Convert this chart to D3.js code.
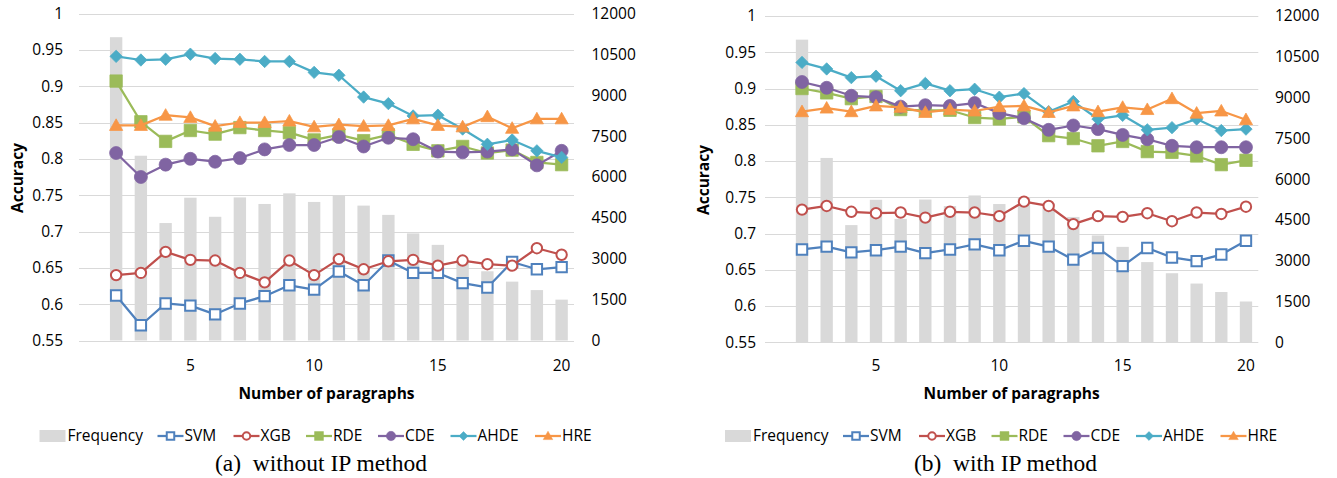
<!DOCTYPE html>
<html>
<head>
<meta charset="utf-8">
<script src="https://cdn.jsdelivr.net/npm/d3@7"></script>
<style>
  html, body { margin: 0; padding: 0; background: #ffffff; }
  svg { display: block; }
  text { font-family: "Open Sans", "Noto Sans", sans-serif; fill: #000; }
</style>
</head>
<body>
<svg id="chart" width="1337" height="478"></svg>
<script>
// ---------- DATA ----------
const xCategories = [1, 2, 3, 4, 5, 6, 7, 8, 9, 10, 11, 12, 13, 14, 15, 16, 17, 18, 19, 20];
const paragraphs  = [2, 3, 4, 5, 6, 7, 8, 9, 10, 11, 12, 13, 14, 15, 16, 17, 18, 19, 20];
const xTickLabels = [5, 10, 15, 20];
const accuracyTicks  = [0.55, 0.6, 0.65, 0.7, 0.75, 0.8, 0.85, 0.9, 0.95, 1];
const accuracyLabels = ["0.55", "0.6", "0.65", "0.7", "0.75", "0.8", "0.85", "0.9", "0.95", "1"];
const frequencyTicks = [0, 1500, 3000, 4500, 6000, 7500, 9000, 10500, 12000];

const frequency = [11130, 6780, 4310, 5240, 4540, 5250, 5010, 5400, 5085, 5310, 4950, 4610, 3930, 3510, 2950, 2540, 2160, 1850, 1500];

const seriesNames = ["SVM", "XGB", "RDE", "CDE", "AHDE", "HRE"];

// (a) without IP method
const svmA  = [0.612, 0.571, 0.601, 0.598, 0.586, 0.601, 0.611, 0.626, 0.620, 0.645, 0.626, 0.660, 0.643, 0.643, 0.629, 0.623, 0.658, 0.648, 0.651];
const xgbA  = [0.640, 0.643, 0.672, 0.661, 0.660, 0.643, 0.630, 0.660, 0.640, 0.662, 0.648, 0.659, 0.661, 0.653, 0.660, 0.655, 0.653, 0.677, 0.668];
const rdeA  = [0.907, 0.851, 0.824, 0.839, 0.834, 0.843, 0.839, 0.836, 0.826, 0.833, 0.825, 0.833, 0.820, 0.811, 0.817, 0.808, 0.812, 0.795, 0.792];
const cdeA  = [0.808, 0.775, 0.792, 0.800, 0.796, 0.801, 0.813, 0.819, 0.819, 0.830, 0.817, 0.829, 0.827, 0.810, 0.809, 0.810, 0.813, 0.791, 0.811];
const ahdeA = [0.941, 0.936, 0.937, 0.944, 0.938, 0.937, 0.934, 0.934, 0.919, 0.915, 0.885, 0.876, 0.859, 0.860, 0.841, 0.820, 0.826, 0.811, 0.802];
const hreA  = [0.846, 0.846, 0.860, 0.857, 0.845, 0.850, 0.850, 0.852, 0.844, 0.847, 0.845, 0.846, 0.855, 0.846, 0.844, 0.858, 0.842, 0.855, 0.855];

// (b) with IP method
const svmB  = [0.678, 0.682, 0.674, 0.677, 0.682, 0.673, 0.678, 0.685, 0.677, 0.690, 0.682, 0.664, 0.680, 0.655, 0.680, 0.667, 0.662, 0.671, 0.690];
const xgbB  = [0.733, 0.738, 0.730, 0.728, 0.729, 0.722, 0.730, 0.729, 0.724, 0.744, 0.738, 0.713, 0.724, 0.723, 0.728, 0.717, 0.729, 0.727, 0.737];
const rdeB  = [0.900, 0.894, 0.886, 0.889, 0.871, 0.870, 0.870, 0.860, 0.858, 0.861, 0.835, 0.831, 0.821, 0.827, 0.813, 0.812, 0.807, 0.795, 0.801];
const cdeB  = [0.909, 0.901, 0.890, 0.888, 0.875, 0.877, 0.876, 0.880, 0.866, 0.859, 0.843, 0.849, 0.844, 0.836, 0.830, 0.821, 0.819, 0.819, 0.819];
const ahdeB = [0.936, 0.927, 0.915, 0.917, 0.897, 0.907, 0.897, 0.899, 0.888, 0.893, 0.868, 0.882, 0.858, 0.863, 0.843, 0.846, 0.858, 0.842, 0.844];
const hreB  = [0.868, 0.873, 0.868, 0.876, 0.874, 0.867, 0.871, 0.869, 0.875, 0.876, 0.867, 0.876, 0.868, 0.874, 0.871, 0.886, 0.866, 0.869, 0.857];

// ---------- STYLE ----------
const colors  = { SVM: "#4F81BD", XGB: "#C0504D", RDE: "#9BBB59", CDE: "#8064A2", AHDE: "#4BACC6", HRE: "#F79646" };
const markers = { SVM: "squareOpen", XGB: "circleOpen", RDE: "square", CDE: "circle", AHDE: "diamond", HRE: "triangle" };
const barColor = "#D9D9D9";
const gridColor = "#D9D9D9";
const FS = 15.5;
const legendOffsets = [118, 194, 266.5, 338.5, 411, 495.5];

function markerPath(type, k) {
  switch (type) {
    case "squareOpen": { const h = 5.2 * k; return `M${-h},${-h}H${h}V${h}H${-h}Z`; }
    case "square":     { const h = 6.2 * k; return `M${-h},${-h}H${h}V${h}H${-h}Z`; }
    case "circleOpen": { const r = 5.2 * k; return `M${r},0A${r},${r} 0 1,1 ${-r},0A${r},${r} 0 1,1 ${r},0Z`; }
    case "circle":     { const r = 6.5 * k; return `M${r},0A${r},${r} 0 1,1 ${-r},0A${r},${r} 0 1,1 ${r},0Z`; }
    case "diamond":    { const h = 6.2 * k; return `M0,${-h}L${h},0L0,${h}L${-h},0Z`; }
    case "triangle":   { const w = 6.6 * k, t = 6.6 * k, b = 5.0 * k; return `M0,${-t}L${w},${b}L${-w},${b}Z`; }
  }
}

function drawChart(svg, cfg, series) {
  const g = svg.append("g");
  const x = d3.scaleBand().domain(xCategories).range([cfg.left, cfg.right]);
  const y = d3.scaleLinear().domain([0.55, 1]).range([cfg.bottom, cfg.top]);
  const y2 = d3.scaleLinear().domain([0, 12000]).range([cfg.bottom, cfg.top]);
  const cx = d => x(d) + x.bandwidth() / 2;

  g.append("g").selectAll("line").data(accuracyTicks).join("line")
    .attr("x1", cfg.left).attr("x2", cfg.right)
    .attr("y1", d => Math.round(y(d)) + 0.5).attr("y2", d => Math.round(y(d)) + 0.5)
    .attr("stroke", gridColor).attr("stroke-width", 1);

  const bw = x.bandwidth() * 0.5;
  g.append("g").selectAll("rect").data(paragraphs).join("rect")
    .attr("x", (d) => cx(d) - bw / 2)
    .attr("width", bw)
    .attr("y", (d, i) => y2(frequency[i]))
    .attr("height", (d, i) => y2(0) - y2(frequency[i]))
    .attr("fill", barColor);

  g.append("g").selectAll("text").data(accuracyTicks).join("text")
    .attr("x", cfg.yLabelRight).attr("y", d => y(d)).attr("dy", "0.35em")
    .attr("text-anchor", "end").attr("font-size", FS)
    .text((d, i) => accuracyLabels[i]);

  g.append("g").selectAll("text").data(frequencyTicks).join("text")
    .attr("x", cfg.y2LabelLeft).attr("y", d => y2(d)).attr("dy", "0.35em")
    .attr("text-anchor", "start").attr("font-size", FS)
    .text(d => d);

  g.append("g").selectAll("text").data(xTickLabels).join("text")
    .attr("x", d => cx(d)).attr("y", 370.5)
    .attr("text-anchor", "middle").attr("font-size", FS)
    .text(d => d);

  g.append("text")
    .attr("x", (cfg.left + cfg.right) / 2).attr("y", 398.5)
    .attr("text-anchor", "middle").attr("font-size", FS).attr("font-weight", "bold")
    .text("Number of paragraphs");
  g.append("text")
    .attr("transform", `translate(${cfg.yTitleX},${cfg.yTitleY}) rotate(-90)`)
    .attr("text-anchor", "middle").attr("dy", "0.35em")
    .attr("font-size", FS).attr("font-weight", "bold")
    .text("Accuracy");

  const line = d3.line().x((d, i) => cx(paragraphs[i])).y(d => y(d));
  seriesNames.forEach(name => {
    const vals = series[name];
    const col = colors[name];
    const sg = g.append("g");
    sg.append("path").attr("d", line(vals)).attr("fill", "none")
      .attr("stroke", col).attr("stroke-width", 2.25).attr("stroke-linejoin", "round");
    const open = markers[name].endsWith("Open");
    sg.selectAll("path.m").data(vals).join("path").attr("class", "m")
      .attr("transform", (d, i) => `translate(${cx(paragraphs[i])},${y(d)})`)
      .attr("d", markerPath(markers[name], 1))
      .attr("fill", open ? "#ffffff" : col)
      .attr("stroke", col).attr("stroke-width", open ? 2 : 0.75);
  });

  const lg = g.append("g");
  const lx0 = cfg.legendX;
  const ly = 436;
  lg.append("rect").attr("x", lx0).attr("y", ly - 6).attr("width", 26).attr("height", 12).attr("fill", barColor);
  lg.append("text").attr("x", lx0 + 28).attr("y", ly).attr("dy", "0.35em").attr("font-size", FS).text("Frequency");
  seriesNames.forEach((name, i) => {
    const col = colors[name];
    const lx = lx0 + legendOffsets[i];
    lg.append("line").attr("x1", lx).attr("x2", lx + 26).attr("y1", ly).attr("y2", ly)
      .attr("stroke", col).attr("stroke-width", 2.25);
    const open = markers[name].endsWith("Open");
    lg.append("path").attr("transform", `translate(${lx + 13},${ly})`)
      .attr("d", markerPath(markers[name], 0.72))
      .attr("fill", open ? "#ffffff" : col)
      .attr("stroke", col).attr("stroke-width", open ? 2 : 0.5);
    lg.append("text").attr("x", lx + 27).attr("y", ly).attr("dy", "0.35em").attr("font-size", FS).text(name);
  });

  // caption: left edge and width
  const cap = g.append("text")
    .attr("x", cfg.captionX).attr("y", 471)
    .attr("text-anchor", "start")
    .style("font-family", "'Liberation Serif', 'Times New Roman', serif")
    .attr("font-size", 20.5)
    .style("white-space", "pre")
    .text(cfg.caption);
  const w = cap.node().getComputedTextLength();
  if (w > 0) cap.attr("font-size", 20.5 * cfg.captionW / w);
}

const svg = d3.select("#chart");

drawChart(svg, {
  left: 79, right: 574, top: 13.5, bottom: 340.5,
  yLabelRight: 63, y2LabelLeft: 591.5, yTitleX: 17.5, yTitleY: 178,
  legendX: 39.5, captionX: 215, captionW: 212, caption: "(a)  without IP method"
}, { SVM: svmA, XGB: xgbA, RDE: rdeA, CDE: cdeA, AHDE: ahdeA, HRE: hreA });

drawChart(svg, {
  left: 765, right: 1258.3, top: 16, bottom: 342.3,
  yLabelRight: 756, y2LabelLeft: 1275, yTitleX: 703.5, yTitleY: 180,
  legendX: 725, captionX: 914, captionW: 183, caption: "(b)  with IP method"
}, { SVM: svmB, XGB: xgbB, RDE: rdeB, CDE: cdeB, AHDE: ahdeB, HRE: hreB });
</script>
</body>
</html>
